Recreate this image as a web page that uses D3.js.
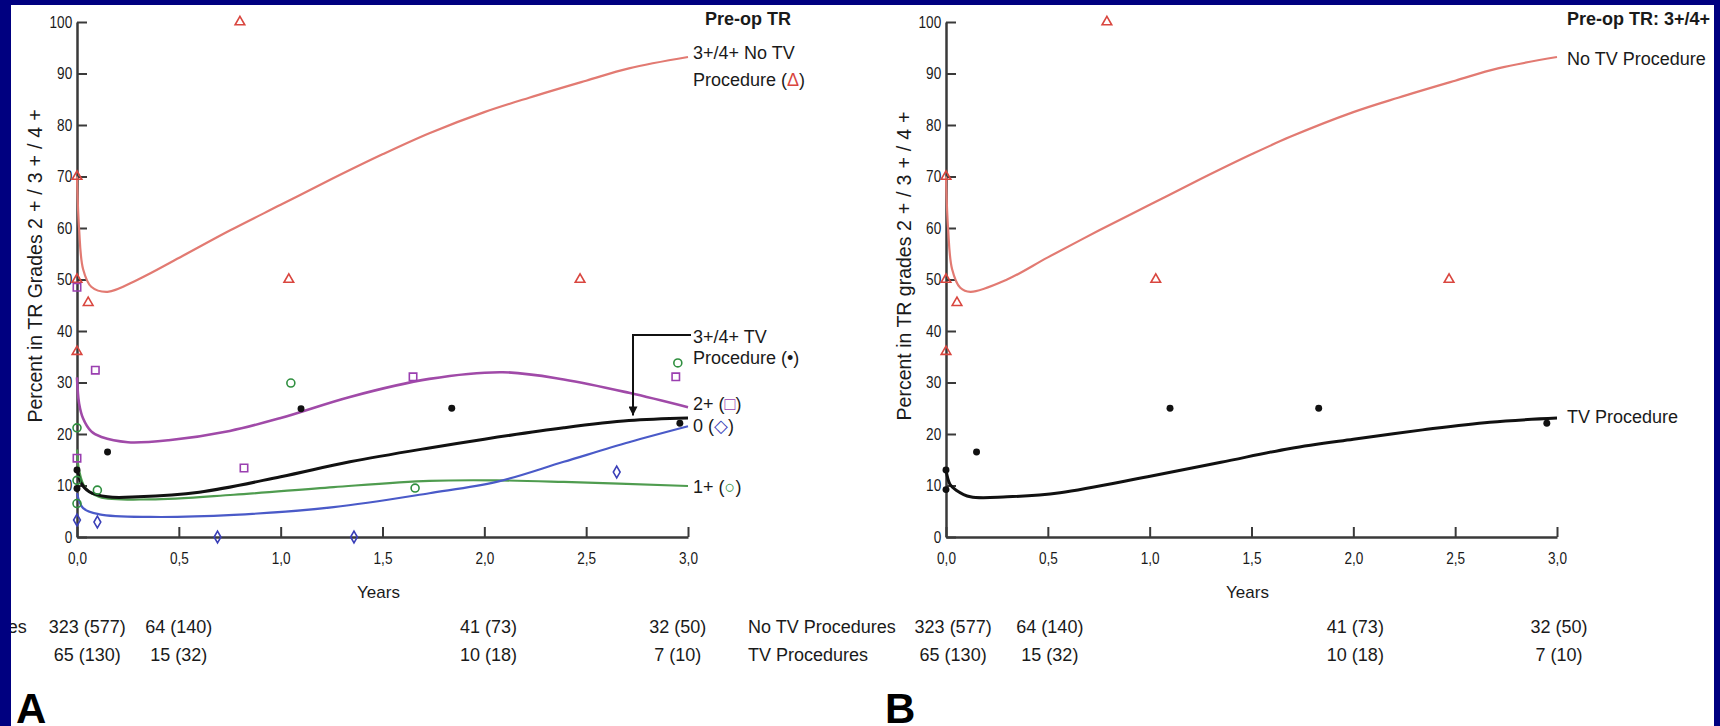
<!DOCTYPE html>
<html>
<head>
<meta charset="utf-8">
<script src="https://cdn.jsdelivr.net/npm/d3@7"></script>
<style>
  body { margin: 0; background: #000080; }
  svg { display: block; font-family: "Liberation Sans", Arial, sans-serif; }
</style>
</head>
<body>
<div id="container"></div>
<script>
/*==================================================
    DATA
===================================================*/
const xTickValues = [0, 0.5, 1, 1.5, 2, 2.5, 3];
const yTickValues = [0, 10, 20, 30, 40, 50, 60, 70, 80, 90, 100];

// panel A : fitted curves as [years, percent]
const aNoTvCurve = [[0, 70], [0.01, 60], [0.03, 52], [0.07, 48.6], [0.15, 47.6], [0.3, 50.0], [0.52, 54.6], [0.75, 59.5], [1.0, 64.5], [1.25, 69.5], [1.5, 74.3], [1.73, 78.4], [2.0, 82.5], [2.22, 85.3], [2.5, 88.6], [2.71, 91], [3.0, 93.2]];
const aTvCurve = [[0, 13.5], [0.02, 10.5], [0.06, 8.8], [0.15, 7.8], [0.3, 7.8], [0.6, 8.7], [1.0, 11.7], [1.34, 14.6], [1.73, 17.3], [2.0, 19.0], [2.39, 21.2], [2.71, 22.6], [3.0, 23.1]];
const aGrade2Curve = [[0, 31], [0.01, 26], [0.03, 23], [0.07, 20.5], [0.12, 19.4], [0.25, 18.4], [0.45, 18.8], [0.75, 20.6], [1.0, 23.1], [1.34, 27.2], [1.73, 30.7], [2.09, 32.0], [2.39, 30.6], [2.71, 28.0], [3.0, 25.2]];
const aGrade1Curve = [[0, 17], [0.01, 13], [0.04, 9.6], [0.11, 7.8], [0.36, 7.3], [0.77, 8.2], [1.26, 9.7], [1.73, 10.9], [2.06, 11.0], [2.39, 10.7], [3.0, 9.9]];
const aGrade0Curve = [[0, 8.5], [0.03, 5.6], [0.11, 4.4], [0.36, 3.9], [0.77, 4.3], [1.26, 5.8], [1.73, 8.5], [2.06, 10.7], [2.39, 14.6], [2.71, 18.4], [3.0, 21.5]];

// panel A : observed values
const aNoTvPoints = [[0, 70], [0, 50], [0, 36], [0.055, 45.5], [0.8, 100], [1.04, 50], [2.47, 50]];
const aTvPoints = [[0, 13], [0, 9.4], [0.15, 16.5], [1.1, 24.9], [1.84, 25], [2.96, 22.1]];
const aGrade2Points = [[0, 48.5], [0, 15.3], [0.09, 32.4], [0.82, 13.4], [1.65, 31.1], [2.94, 31.1]];
const aGrade1Points = [[0, 21.2], [0, 11], [0, 6.5], [0.1, 9.1], [1.05, 29.9], [1.66, 9.5], [2.95, 33.8]];
const aGrade0Points = [[0, 3.3], [0.1, 2.9], [0.69, 0], [1.36, 0], [2.65, 12.6]];

// panel B : fitted curves
const bNoTvCurve = [[0, 70], [0.01, 60], [0.03, 52], [0.07, 48.4], [0.12, 47.6], [0.3, 50.0], [0.5, 54.3], [0.75, 59.5], [1.0, 64.5], [1.25, 69.5], [1.5, 74.3], [1.69, 77.7], [2.0, 82.5], [2.22, 85.3], [2.5, 88.6], [2.71, 91], [3.0, 93.2]];
const bTvCurve = [[0, 13], [0.02, 10.2], [0.05, 9.1], [0.12, 7.8], [0.3, 7.8], [0.56, 8.6], [0.99, 11.7], [1.35, 14.5], [1.69, 17.2], [2.0, 19.0], [2.34, 20.8], [2.67, 22.3], [3.0, 23.1]];

// panel B : observed values
const bNoTvPoints = [[0, 70], [0, 50], [0, 36], [0.054, 45.5], [0.79, 100], [1.03, 50], [2.47, 50]];
const bTvPoints = [[0, 13], [0, 9.2], [0.15, 16.5], [1.1, 25], [1.83, 25], [2.95, 22.1]];

// patients at risk
const riskRowLabels = ['No TV Procedures', 'TV Procedures'];
const riskNoTv = ['323 (577)', '64 (140)', '41 (73)', '32 (50)'];
const riskTv = ['65 (130)', '15 (32)', '10 (18)', '7 (10)'];
const riskYearsA = [0.05, 0.5, 2.02, 2.95];
const riskYearsB = [0.035, 0.51, 2.01, 3.01];


/*==================================================
    COLOURS / CANVAS
===================================================*/
const col = {
  noTvLine: '#e27a72',
  noTv: '#d9463f',
  tv: '#111',
  g2Line: '#a04aa8',
  g2: '#9a3fb0',
  g1Line: '#4f9c4f',
  g1: '#2f8f3f',
  g0Line: '#4a5ac8',
  g0: '#3a3fb8',
  axis: '#3a3a3a',
  text: '#1a1a1a'
};

const W = 1720, H = 726;
const plotW = 611, yTop = 22, yBottom = 537;

const svg = d3.select('#container')
  .append('svg')
  .attr('width', W)
  .attr('height', H);

svg.append('rect')
  .attr('x', 0).attr('y', 0)
  .attr('width', W).attr('height', H)
  .attr('fill', '#fff');

// arrow head for the callout
svg.append('defs')
  .append('marker')
  .attr('id', 'arrow')
  .attr('viewBox', '0 0 10 10')
  .attr('refX', 10).attr('refY', 5)
  .attr('markerWidth', 9).attr('markerHeight', 9)
  .attr('markerUnits', 'userSpaceOnUse')
  .attr('orient', 'auto')
  .append('path')
  .attr('d', 'M0,0 L10,5 L0,10 Z')
  .attr('fill', '#111');

const fmtX = d => d3.format('.1f')(d).replace('.', ',');


/*==================================================
    PANEL DRAWER
===================================================*/
const drawPanel = cfg => {
  const x = d3.scaleLinear().domain([0, 3]).range([cfg.x0, cfg.x0 + plotW]);
  const y = d3.scaleLinear().domain([0, 100]).range([yBottom, yTop]);
  const g = svg.append('g');

  // axes
  const xAxis = g.append('g')
    .attr('transform', `translate(0, ${y(0)})`)
    .call(d3.axisBottom(x).tickValues(xTickValues).tickSize(-10).tickSizeOuter(0).tickPadding(15).tickFormat(fmtX));

  const yAxis = g.append('g')
    .attr('transform', `translate(${x(0)}, 0)`)
    .call(d3.axisLeft(y).tickValues(yTickValues).tickSize(-10).tickSizeOuter(0).tickPadding(6));

  [xAxis, yAxis].forEach(a => {
    a.select('.domain').attr('stroke', col.axis).attr('stroke-width', 2.5);
    a.selectAll('.tick line').attr('stroke', col.axis).attr('stroke-width', 2);
    a.selectAll('.tick text')
      .attr('fill', col.text)
      .attr('font-size', 17)
      .attr('font-family', '"Liberation Sans", Arial, sans-serif')
      .attr('transform', 'scale(0.8,1)');
  });

  // axis titles
  const yTitle = g.append('text')
    .attr('transform', `translate(${x(0) - 35}, 263) rotate(-90)`)
    .attr('text-anchor', 'middle')
    .attr('font-size', 19.5)
    .attr('fill', col.text);
  yTitle.append('tspan').text(cfg.yTitle);
  yTitle.append('tspan').attr('letter-spacing', 6).text('2+/3+/4+');

  g.append('text')
    .attr('x', x(1.5) - 4)
    .attr('y', 598)
    .attr('text-anchor', 'middle')
    .attr('font-size', 17)
    .attr('fill', col.text)
    .text('Years');

  // fitted curves
  const line = d3.line()
    .x(d => x(d[0]))
    .y(d => y(d[1]))
    .curve(d3.curveCatmullRom.alpha(0.5));

  cfg.curves.forEach(c => {
    g.append('path')
      .datum(c.data)
      .attr('d', line)
      .attr('fill', 'none')
      .attr('stroke', c.color)
      .attr('stroke-width', c.width);
  });

  // observed points
  cfg.points.forEach(p => {
    g.append('g')
      .selectAll('path')
      .data(p.data)
      .enter()
      .append('path')
      .attr('transform', d => `translate(${x(d[0])}, ${y(d[1])})`)
      .attr('d', d3.symbol().type(p.type).size(p.size))
      .attr('fill', p.filled ? p.color : 'none')
      .attr('stroke', p.color)
      .attr('stroke-width', p.filled ? 0 : 1.6);
  });

  // patients at risk
  [riskNoTv, riskTv].forEach((row, i) => {
    const ry = 633 + i * 28;
    g.append('text')
      .attr('x', x(0) - 198)
      .attr('y', ry)
      .attr('font-size', 18)
      .attr('fill', col.text)
      .text(riskRowLabels[i]);

    g.append('g')
      .selectAll('text')
      .data(row)
      .enter()
      .append('text')
      .attr('x', (d, j) => x(cfg.riskYears[j]))
      .attr('y', ry)
      .attr('text-anchor', 'middle')
      .attr('font-size', 18)
      .attr('fill', col.text)
      .text(d => d);
  });

  // panel letter
  g.append('text')
    .attr('x', x(0) - 61)
    .attr('y', 723)
    .attr('font-size', 42)
    .attr('font-weight', 'bold')
    .attr('fill', '#000')
    .text(cfg.letter);

  return { g, x, y };
};

// helper for multi coloured labels
const label = (g, px, py, parts, opts = {}) => {
  const t = g.append('text')
    .attr('x', px)
    .attr('y', py)
    .attr('font-size', opts.size || 18)
    .attr('font-weight', opts.bold ? 'bold' : 'normal')
    .attr('text-anchor', opts.anchor || 'start')
    .attr('fill', col.text);
  parts.forEach(p => {
    t.append('tspan')
      .attr('fill', p[1] || col.text)
      .text(p[0]);
  });
};


/*==================================================
    PANEL A
===================================================*/
const A = drawPanel({
  x0: 77,
  letter: 'A',
  yTitle: 'Percent in TR Grades ',
  riskYears: riskYearsA,
  curves: [
    { data: aNoTvCurve, color: col.noTvLine, width: 2.2 },
    { data: aGrade1Curve, color: col.g1Line, width: 2.2 },
    { data: aGrade0Curve, color: col.g0Line, width: 2.2 },
    { data: aGrade2Curve, color: col.g2Line, width: 2.6 },
    { data: aTvCurve, color: col.tv, width: 3 }
  ],
  points: [
    { data: aNoTvPoints, type: d3.symbolTriangle, size: 40, color: col.noTv },
    { data: aGrade2Points, type: d3.symbolSquare, size: 55, color: col.g2 },
    { data: aGrade1Points, type: d3.symbolCircle, size: 50, color: col.g1 },
    { data: aGrade0Points, type: d3.symbolDiamond, size: 40, color: col.g0 },
    { data: aTvPoints, type: d3.symbolCircle, size: 38, color: col.tv, filled: true }
  ]
});

const ax = A.x(3) + 5;
label(A.g, A.x(3) + 60, 25, [['Pre-op TR']], { bold: true, anchor: 'middle' });
label(A.g, ax, 59, [['3+/4+ No TV']]);
label(A.g, ax, 86, [['Procedure ('], ['\u0394', col.noTv], [')']]);
label(A.g, ax, 343, [['3+/4+ TV']]);
label(A.g, ax, 364, [['Procedure (\u2022)']]);
label(A.g, ax, 410, [['2+ ('], ['\u25A1', col.g2], [')']]);
label(A.g, ax, 432, [['0 ('], ['\u25C7', col.g0], [')']]);
label(A.g, ax, 493, [['1+ ('], ['\u25CB', col.g1], [')']]);

// callout arrow to the TV curve
A.g.append('path')
  .attr('d', d3.line()([[A.x(3) + 3, A.y(39.2)], [A.x(2.73), A.y(39.2)], [A.x(2.73), A.y(23.6)]]))
  .attr('fill', 'none')
  .attr('stroke', '#111')
  .attr('stroke-width', 2)
  .attr('marker-end', 'url(#arrow)');


/*==================================================
    PANEL B
===================================================*/
const B = drawPanel({
  x0: 946,
  letter: 'B',
  yTitle: 'Percent in TR grades ',
  riskYears: riskYearsB,
  curves: [
    { data: bNoTvCurve, color: col.noTvLine, width: 2.2 },
    { data: bTvCurve, color: col.tv, width: 3 }
  ],
  points: [
    { data: bNoTvPoints, type: d3.symbolTriangle, size: 40, color: col.noTv },
    { data: bTvPoints, type: d3.symbolCircle, size: 38, color: col.tv, filled: true }
  ]
});

const bx = B.x(3) + 10;
label(B.g, bx, 25, [['Pre-op TR: 3+/4+']], { bold: true });
label(B.g, bx, 65, [['No TV Procedure']]);
label(B.g, bx, 423, [['TV Procedure']]);


/*==================================================
    NAVY FRAME (drawn last, clips the left labels)
===================================================*/
const frame = svg.append('g').attr('fill', '#000080');
frame.append('rect').attr('x', 0).attr('y', 0).attr('width', 11).attr('height', H);
frame.append('rect').attr('x', 0).attr('y', 0).attr('width', W).attr('height', 5);
frame.append('rect').attr('x', 1714).attr('y', 0).attr('width', 6).attr('height', H);
</script>
</body>
</html>
